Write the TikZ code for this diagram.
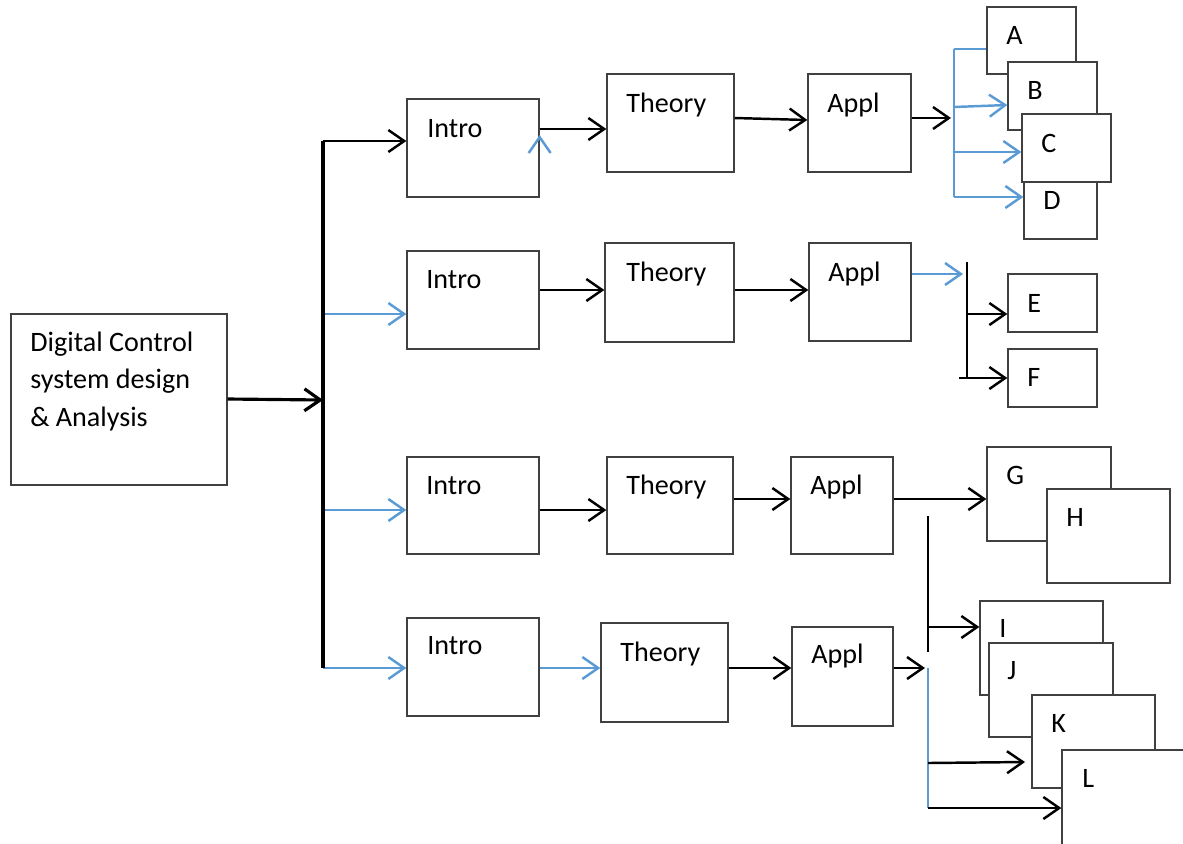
\documentclass[tikz,border=0pt]{standalone}
\usepackage{fontspec}
\setmainfont{Carlito}
\usetikzlibrary{arrows.meta,fit}
\definecolor{boxc}{HTML}{404040}
\definecolor{blu}{HTML}{5B9BD5}
\tikzset{
  box/.style={draw=boxc, line width=0.75pt, fill=white, inner sep=0pt},
  txt/.style={anchor=base west, inner sep=0pt, font=\fontsize{16}{21.3}\selectfont},
  arr/.style={line width=1.4pt, -{Straight Barb[length=9pt,width=12.5pt]}},
  barr/.style={arr, draw=blu},
  ln/.style={line width=1pt},
  bln/.style={line width=1pt, draw=blu},
  trunkline/.style={line width=1.9pt}
}
\begin{document}
\begin{tikzpicture}[x=0.02cm,y=-0.02cm]
\useasboundingbox (0,0) rectangle (1183,843);
\clip (0,0) rectangle (1183,843);
% main box
\node[box, fit={(11,314)(227,485)}] (m) {};
\node[txt, align=left] (mt) at (30,426) {Digital Control\\system design\\\& Analysis};
% row 1
\node[box, fit={(407,99)(539,197)}] (i1) {};
\node[box, fit={(607,74)(734,172)}] (t1) {};
\node[box, fit={(808,74)(911,172)}] (a1) {};
\node[txt] (i1t) at (427,137) {Intro};
\node[txt] (t1t) at (626,112) {Theory};
\node[txt] (a1t) at (827,112) {Appl};
% row 2
\node[box, fit={(407,251)(539,349)}] (i2) {};
\node[box, fit={(605,243)(734,342)}] (t2) {};
\node[box, fit={(809,243)(911,341)}] (a2) {};
\node[txt] (i2t) at (426,288) {Intro};
\node[txt] (t2t) at (626,281) {Theory};
\node[txt] (a2t) at (828,281) {Appl};
% row 3
\node[box, fit={(407,457)(539,554)}] (i3) {};
\node[box, fit={(607,457)(733,554)}] (t3) {};
\node[box, fit={(791,457)(893,554)}] (a3) {};
\node[txt] (i3t) at (426,494) {Intro};
\node[txt] (t3t) at (626,494) {Theory};
\node[txt] (a3t) at (810,494) {Appl};
% row 4
\node[box, fit={(407,618)(539,716)}] (i4) {};
\node[box, fit={(601,623)(728,722)}] (t4) {};
\node[box, fit={(792,627)(893,726)}] (a4) {};
\node[txt] (i4t) at (427,654) {Intro};
\node[txt] (t4t) at (620,661) {Theory};
\node[txt] (a4t) at (811,663) {Appl};
% leaf boxes
\node[box, fit={(987,7)(1076,74)}] (A) {};
\node[txt] (At) at (1006,44) {A};
\node[box, fit={(1008,62)(1097,130)}] (B) {};
\node[txt] (Bt) at (1027,99) {B};
\node[box, fit={(1024,182)(1097,239)}] (D) {};
\node[txt] (Dt) at (1043,209) {D};
\node[box, fit={(1022,114)(1111,182)}] (C) {};
\node[txt] (Ct) at (1041,152) {C};
\node[box, fit={(1008,274)(1097,332)}] (E) {};
\node[txt] (Et) at (1027,312) {E};
\node[box, fit={(1008,349)(1097,407)}] (F) {};
\node[txt] (Ft) at (1027,386) {F};
\node[box, fit={(987,447)(1111,541)}] (G) {};
\node[txt] (Gt) at (1006,484) {G};
\node[box, fit={(1047,489)(1170,583)}] (H) {};
\node[txt] (Ht) at (1066,526) {H};
\node[box, fit={(980,601)(1103,695)}] (I) {};
\node[txt] (It) at (999,637) {I};
\node[box, fit={(989,643)(1113,737)}] (J) {};
\node[txt] (Jt) at (1007,679) {J};
\node[box, fit={(1032,695)(1155,788)}] (K) {};
\node[txt] (Kt) at (1051,732) {K};
\node[box, fit={(1062,750)(1210,870)}] (L) {};
\node[txt] (Lt) at (1082,787) {L};
% coordinates
\coordinate (tr1) at (323,141);
\coordinate (tr4) at (323,668);
\coordinate (bA1) at (954,49);
\coordinate (bA2) at (954,197);
\coordinate (bE1) at (967,262);
\coordinate (bE2) at (967,378);
\coordinate (bI1) at (928,516);
\coordinate (bI2) at (928,652);
\coordinate (bK1) at (928,668);
\coordinate (bK2) at (928,808);
% trunk branches
\draw[arr, line width=1.8pt] (m.east |- 0,399) -- (tr1 |- 0,400);
\draw[arr] (tr1) -- (i1.west |- tr1);
\draw[barr] (tr1 |- 0,314) -- (i2.west |- 0,314);
\draw[barr] (tr1 |- 0,510) -- (i3.west |- 0,510);
\draw[barr] (tr4) -- (i4.west |- tr4);
\draw[trunkline] (tr1) -- (tr4);
% row 1 connectors
\draw[arr] (i1.east |- 0,129) -- (t1.west |- 0,129);
\draw[barr] (i1.east |- 0,137) -- (i1.east |- 0,135);
\draw[arr] (t1.east |- 0,118) -- (a1.west |- 0,120);
\draw[arr] (a1.east |- 0,118) -- (951,118) coordinate (a1end);
\draw[bln] (bA1) -- (bA2);
\draw[bln] (bA1) -- (A.west |- bA1);
\draw[barr] (bA1 |- 0,107) -- (B.west |- 0,105);
\draw[barr] (bA1 |- 0,152) -- (C.west |- 0,152);
\draw[barr] (bA2) -- (D.west |- bA2);
% row 2 connectors
\draw[arr] (i2.east |- 0,290) -- (t2.west |- 0,290);
\draw[arr] (t2.east |- 0,290) -- (a2.west |- 0,290);
\draw[barr] (a2.east |- 0,274) -- (963,274) coordinate (a2end);
\draw[ln] (bE1) -- (bE2);
\draw[arr] (bE1 |- 0,314) -- (E.west |- 0,314);
\draw[arr] (959,378) coordinate (fstart) -- (F.west |- 0,378);
% row 3 connectors
\draw[arr] (i3.east |- 0,510) -- (t3.west |- 0,510);
\draw[arr] (t3.east |- 0,499) -- (a3.west |- 0,499);
\draw[arr] (a3.east |- 0,499) -- (G.west |- 0,499);
\draw[ln] (bI1) -- (bI2);
\draw[arr] (bI1 |- 0,627) -- (I.west |- 0,627);
% row 4 connectors
\draw[barr] (i4.east |- 0,668) -- (t4.west |- 0,668);
\draw[arr] (t4.east |- 0,668) -- (a4.west |- 0,668);
\draw[arr] (a4.east |- 0,668) -- (925,668) coordinate (a4end);
\draw[bln] (bK1) -- (bK2);
\draw[arr] (bK1 |- 0,763) -- (1025,762) coordinate (kend);
\draw[arr] (bK2) -- (L.west |- bK2);
\end{tikzpicture}
\end{document}
